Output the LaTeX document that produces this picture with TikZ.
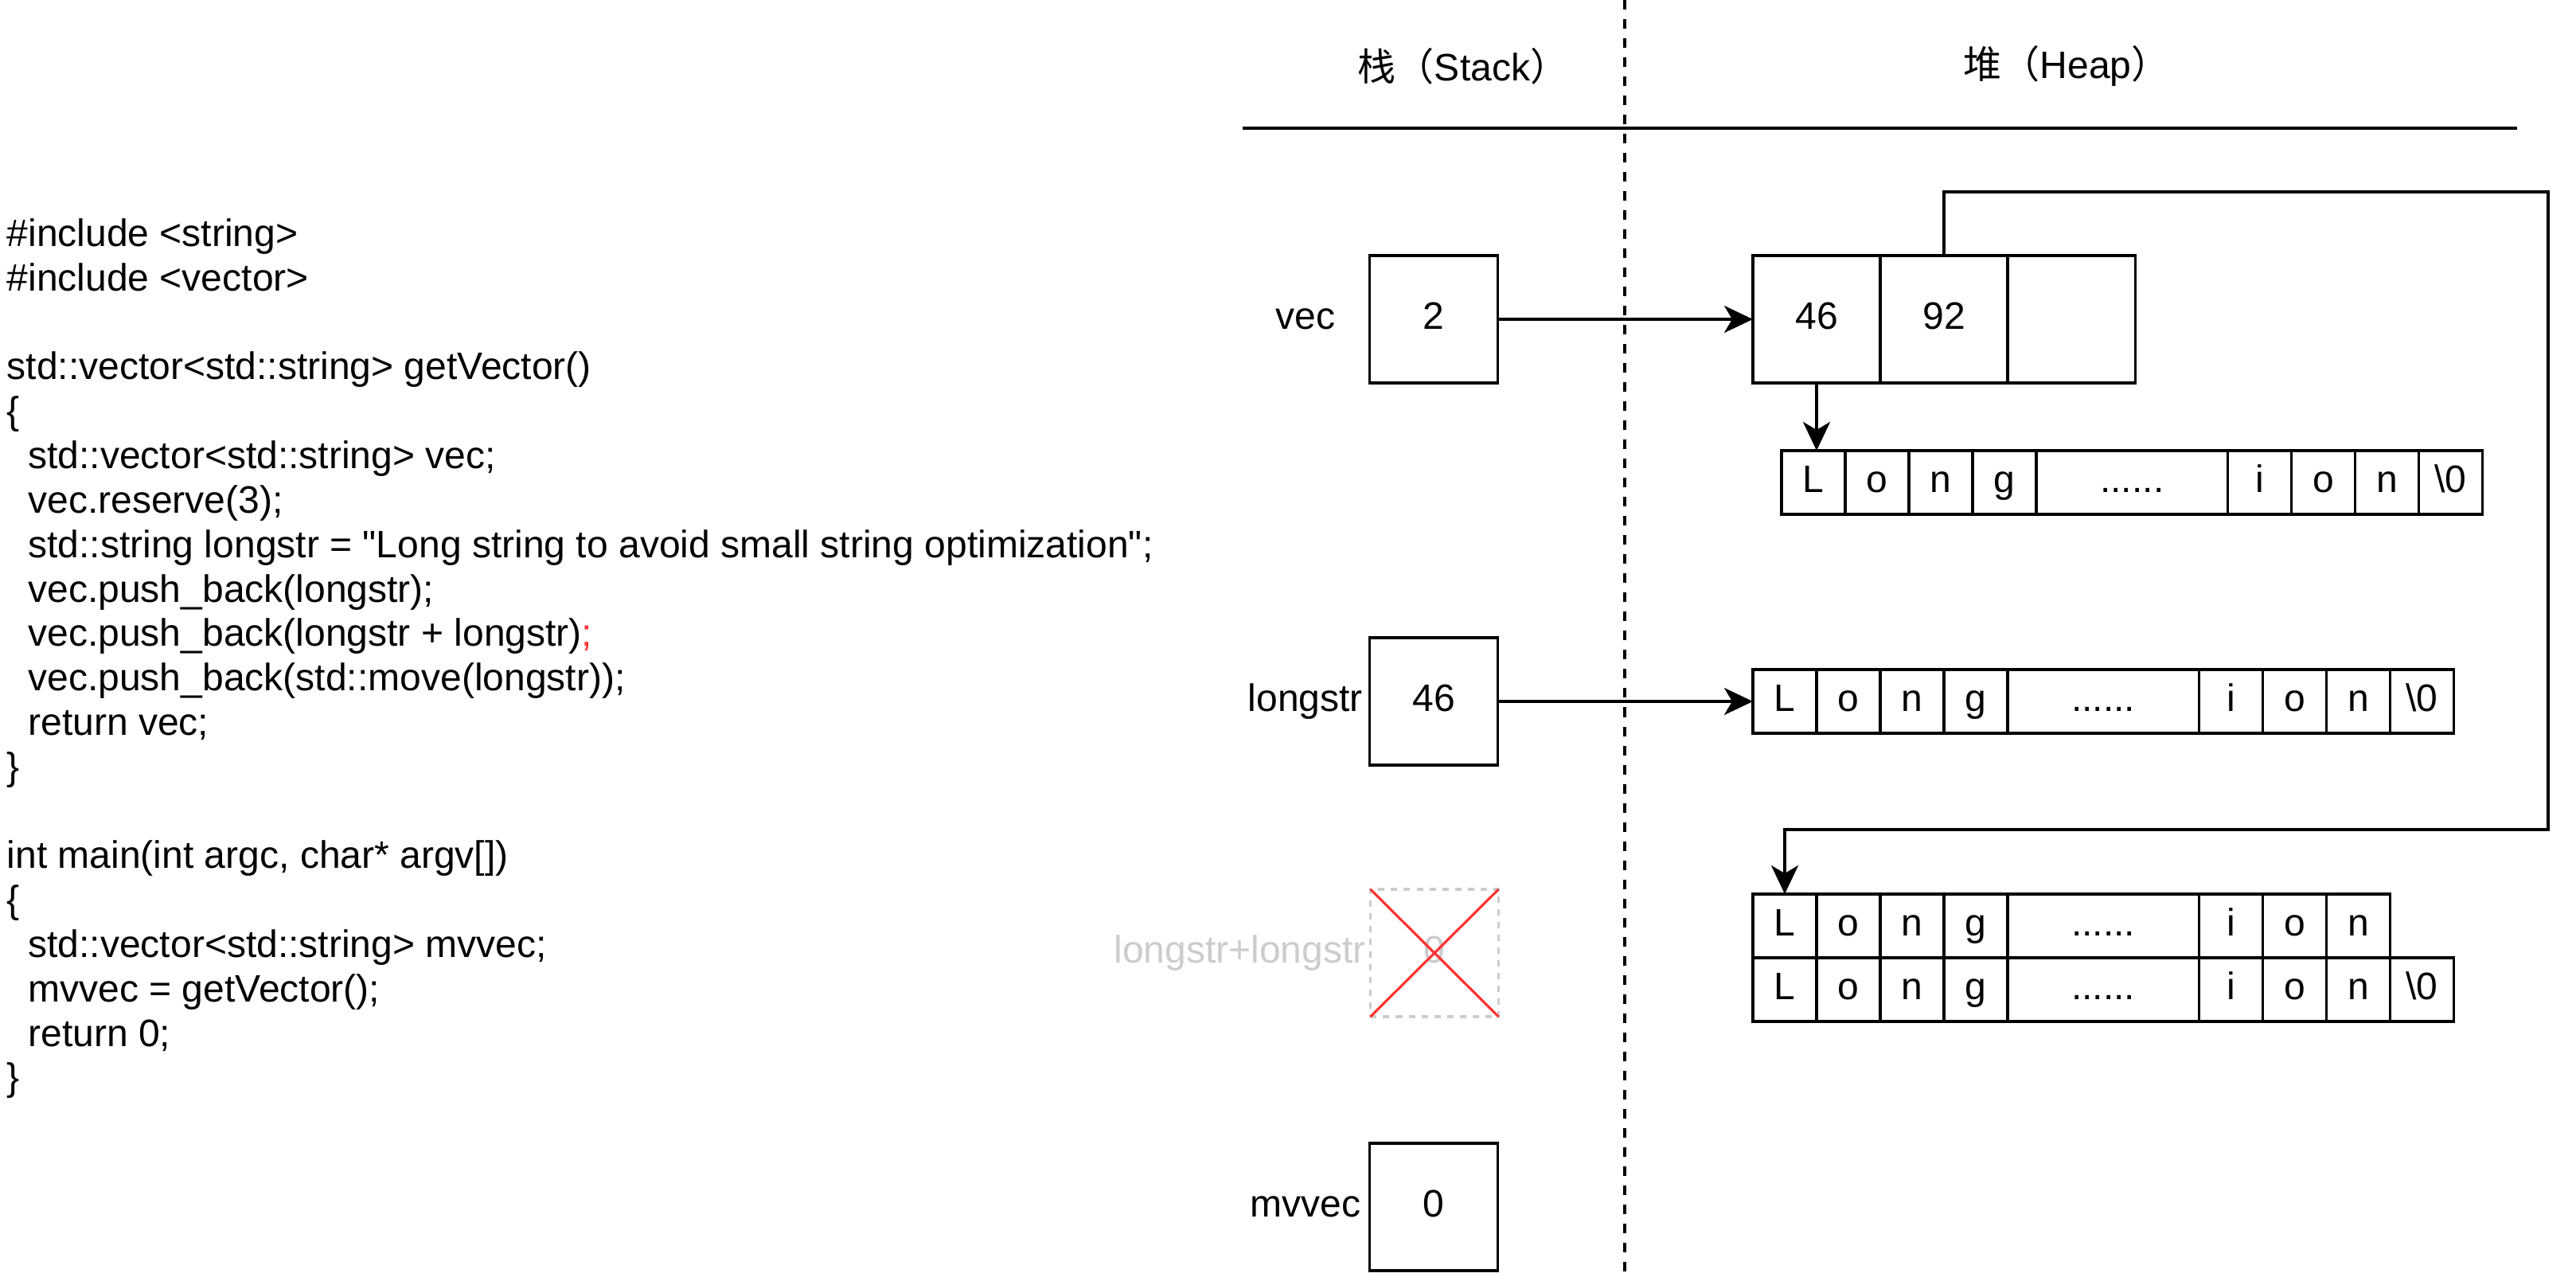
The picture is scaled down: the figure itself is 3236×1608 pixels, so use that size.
\documentclass[tikz,border=0pt]{standalone}
\usepackage{fontspec}
\setmainfont{Liberation Sans}
\newfontfamily\cjk{Noto Sans CJK SC}
\usepackage{tikz}
\usetikzlibrary{arrows.meta, positioning}
\usepackage{xcolor}
\definecolor{xred}{RGB}{255,51,51}
\definecolor{boxgray}{RGB}{204,204,204}
\newcommand{\codeindent}{\hspace*{0.556em}}
\newcommand{\codefont}{\fontsize{13.66}{15.87}\selectfont}
\newcommand{\sixdots}{......}

\begin{document}
\begin{tikzpicture}[x=0.01cm, y=-0.01cm, font=\codefont]

% Define block styles
\tikzstyle{stackbox} = [rectangle, draw=black, line width=1pt, minimum width=1.61cm, minimum height=1.6cm, inner sep=0pt, outer sep=0pt, text height=0.72em, text depth=0pt]
\tikzstyle{vcell} = [rectangle, draw=black, line width=1pt, minimum width=1.6cm, minimum height=1.6cm, inner sep=0pt, outer sep=0pt, text height=0.72em, text depth=0pt]
\tikzstyle{scell} = [rectangle, draw=black, line width=1pt, minimum width=0.8cm, minimum height=0.8cm, inner sep=0pt, outer sep=0pt, text height=0.72em, text depth=0pt]
\tikzstyle{stacklabel} = [minimum width=1.6cm, inner sep=0pt, text height=0.72em, text depth=0pt]
\tikzstyle{arrow} = [line width=1pt, -{Stealth[length=0.36cm, width=0.34cm, inset=0.1cm]}]
\tikzstyle{divider} = [line width=1.1pt, dash pattern=on 0.12cm off 0.12cm]

\useasboundingbox (0,0) rectangle (3236,1608);

% Headers
\node (stackhead) at (1838,83) {{\cjk 栈（}Stack{\cjk ）}};
\node (heaphead) at (2596,83) {{\cjk 堆（}Heap{\cjk ）}};
\draw [line width=1.1pt] (1561,161) -- (3162,161);
\draw [divider] (2041,0) -- (2041,1608);

% Code
\node (code) [anchor=north west, align=left, inner sep=0pt] at (8,274) {%
\#include <string>\\
\#include <vector>\\
\mbox{}\\
std::vector<std::string> getVector()\\
\{\\
\codeindent std::vector<std::string> vec;\\
\codeindent vec.reserve(3);\\
\codeindent std::string longstr = \textquotedbl Long string to avoid small string optimization\textquotedbl;\\
\codeindent vec.push\_back(longstr);\\
\codeindent vec.push\_back(longstr + longstr)\textcolor{xred}{;}\\
\codeindent vec.push\_back(std::move(longstr));\\
\codeindent return vec;\\
\}\\
\mbox{}\\
int main(int argc, char* argv[])\\
\{\\
\codeindent std::vector<std::string> mvvec;\\
\codeindent mvvec = getVector();\\
\codeindent return 0;\\
\}};

% Stack
\node (vecbox) [stackbox] at (1801,401) {2};
\node (longstrbox) [stackbox] at (1801,881) {46};
\node (tmpbox) [stackbox, draw=boxgray, dash pattern=on 0.08cm off 0.08cm, text=boxgray] at (1802,1197) {0};
\node (mvvecbox) [stackbox] at (1801,1516) {0};
\node (veclabel) [stacklabel, left=0pt of vecbox] {vec};
\node (longstrlabel) [stacklabel, left=0pt of longstrbox] {longstr};
\node (tmplabel) [left=0.05cm of tmpbox, inner sep=0pt, text=boxgray, text height=0.72em, text depth=0pt] {longstr+longstr};
\node (mvveclabel) [stacklabel, left=0pt of mvvecbox] {mvvec};
\draw [xred, line width=0.9pt] (tmpbox.north west) -- (tmpbox.south east);
\draw [xred, line width=0.9pt] (tmpbox.north east) -- (tmpbox.south west);

% Heap: vector buffer
\node (arr1) [vcell] at (2282,401) {46};
\node (arr2) [vcell, right=0pt of arr1] {92};
\node (arr3) [vcell, right=0pt of arr2] {};

% Heap: strings
\node (s1-1) [scell] at (2278,606) {L};
\foreach \c/\w [count=\i from 2, remember=\i as \j (initially 1)] in {o/0.8,n/0.8,g/0.8,\sixdots/2.4,i/0.8,o/0.8,n/0.8,\textbackslash 0/0.8}
  \node (s1-\i) [scell, minimum width=\w cm, right=0pt of s1-\j] {\c};

\node (s2-1) [scell] at (2242,881) {L};
\foreach \c/\w [count=\i from 2, remember=\i as \j (initially 1)] in {o/0.8,n/0.8,g/0.8,\sixdots/2.4,i/0.8,o/0.8,n/0.8,\textbackslash 0/0.8}
  \node (s2-\i) [scell, minimum width=\w cm, right=0pt of s2-\j] {\c};

\node (s3-1) [scell] at (2242,1163) {L};
\foreach \c/\w [count=\i from 2, remember=\i as \j (initially 1)] in {o/0.8,n/0.8,g/0.8,\sixdots/2.4,i/0.8,o/0.8,n/0.8}
  \node (s3-\i) [scell, minimum width=\w cm, right=0pt of s3-\j] {\c};

\node (s4-1) [scell] at (2242,1243) {L};
\foreach \c/\w [count=\i from 2, remember=\i as \j (initially 1)] in {o/0.8,n/0.8,g/0.8,\sixdots/2.4,i/0.8,o/0.8,n/0.8,\textbackslash 0/0.8}
  \node (s4-\i) [scell, minimum width=\w cm, right=0pt of s4-\j] {\c};

% Arrows
\coordinate (turn1) at (3201,241);
\coordinate (turn2) at (3201,1042);
\draw [arrow] (vecbox) -- (arr1);
\draw [arrow] (arr1.south) -- (arr1.south |- s1-1.north);
\draw [arrow] (longstrbox) -- (s2-1);
\draw [arrow] (arr2.north) |- (turn1) -- (turn2) -| (s3-1.north);

\end{tikzpicture}
\end{document}
